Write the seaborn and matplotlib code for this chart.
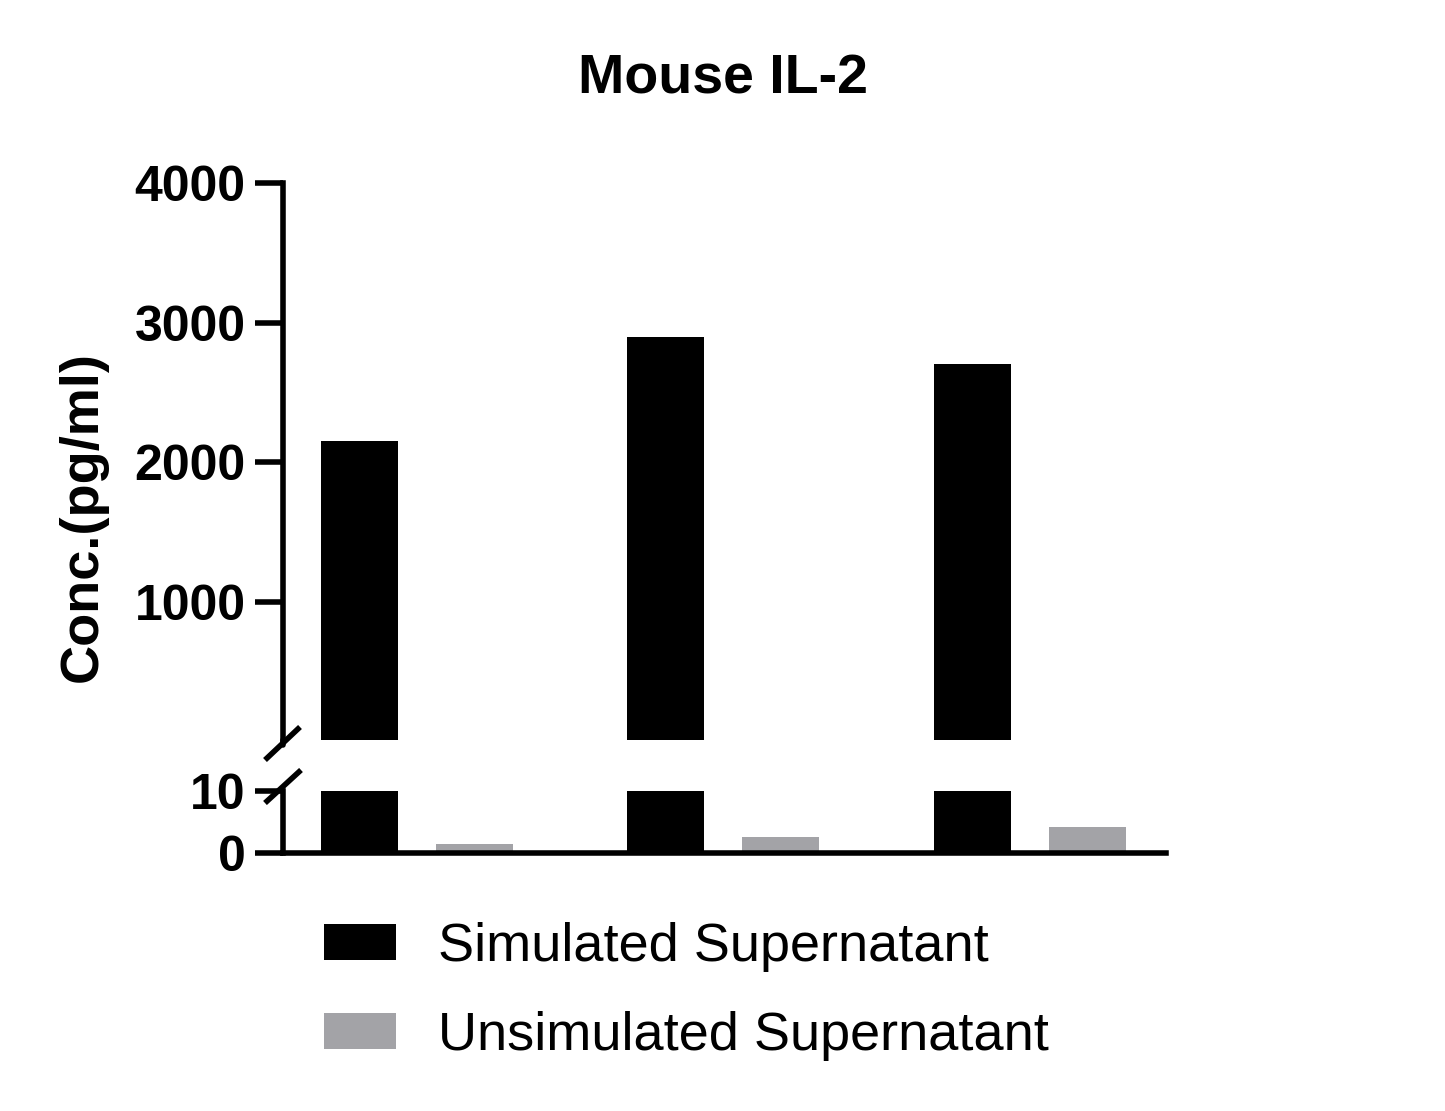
import matplotlib
matplotlib.use("Agg")
import matplotlib.pyplot as plt
import seaborn as sns
import pandas as pd
from matplotlib.lines import Line2D

# ---- data ----
samples = ["Sample 1", "Sample 2", "Sample 3"]
series = ["Simulated Supernatant", "Unsimulated Supernatant"]
simulated = [2150, 2900, 2700]
unsimulated = [1.4, 2.5, 4.1]
colors = ["#000000", "#A3A3A7"]

df = pd.DataFrame({
    "sample": samples * 2,
    "series": [series[0]] * 3 + [series[1]] * 3,
    "value": simulated + unsimulated,
})

sns.set_style("ticks")
plt.rcParams["font.family"] = ["Liberation Sans", "DejaVu Sans"]
plt.rcParams.update({
    "text.color": "black",
    "axes.edgecolor": "black",
    "axes.labelcolor": "black",
    "xtick.color": "black",
    "ytick.color": "black",
})

W, H = 1445, 1111
fig = plt.figure(figsize=(W / 100, H / 100), dpi=100)

def fx(px):
    return px / W

def fy(py):
    return 1 - py / H

x0, x1 = 283, 1166
ax_t = fig.add_axes([fx(x0), fy(740), fx(x1 - x0), fy(183) - fy(740)])
ax_b = fig.add_axes([fx(x0), fy(852.6), fx(x1 - x0), fy(791) - fy(852.6)])

for ax, leg in ((ax_t, False), (ax_b, True)):
    sns.barplot(data=df, x="sample", y="value", hue="series",
                hue_order=series, palette=colors, width=0.75, gap=0.33,
                saturation=1, errorbar=None, legend=leg, ax=ax,
                linewidth=0)
    ax.set_xlim(-0.437, 2.444)
    ax.set_xlabel("")
    ax.set_ylabel("")
    for s in ("top", "right"):
        ax.spines[s].set_visible(False)
    for s in ("left", "bottom"):
        ax.spines[s].set_linewidth(4)
        ax.spines[s].set_color("black")
    ax.tick_params(axis="y", length=20, width=4, pad=7,
                   labelsize=36, direction="out", colors="black")

ax_t.set_ylim(10, 4000)
ax_t.set_yticks([1000, 2000, 3000, 4000])
ax_t.set_yticklabels(["1000", "2000", "3000", "4000"], fontweight="bold",
                     fontsize=36, color="black")
ax_t.spines["bottom"].set_visible(False)
ax_t.tick_params(axis="x", bottom=False, labelbottom=False)

ax_b.set_ylim(0, 10)
ax_b.set_yticks([0, 10])
ax_b.set_yticklabels(["0", "10"], fontweight="bold", fontsize=36,
                     color="black")
ax_b.tick_params(axis="x", bottom=False, labelbottom=False)

# legend
lg = ax_b.get_legend()
handles = lg.legend_handles
labels = [t.get_text() for t in lg.texts]
lg.remove()
leg = fig.legend(handles, labels, loc="upper left",
                 bbox_to_anchor=(fx(324), fy(922)), frameon=False,
                 fontsize=39, handlelength=1.33, handleheight=0.66,
                 handletextpad=0.77, labelspacing=0.72, borderpad=0,
                 borderaxespad=0)
for t in leg.get_texts():
    t.set_color("black")

# axis break marks
for (xa, ya, xb, yb) in [(265, 760, 300, 727), (265, 803, 301, 770)]:
    fig.add_artist(Line2D([fx(xa), fx(xb)], [fy(ya), fy(yb)],
                          transform=fig.transFigure, color="black",
                          linewidth=4, solid_capstyle="butt"))
# short spine stubs joining the break marks
fig.add_artist(Line2D([fx(x0), fx(x0)], [fy(740), fy(745)],
                      transform=fig.transFigure, color="black", linewidth=4))

fig.text(fx(723), fy(80), "Mouse IL-2", ha="center", va="center",
         fontsize=40, fontweight="bold", color="black")
fig.text(fx(83), fy(517), "Conc.(pg/ml)", ha="center", va="center",
         rotation=90, fontsize=39, fontweight="bold", color="black")

fig.savefig("out.png", dpi=100)
